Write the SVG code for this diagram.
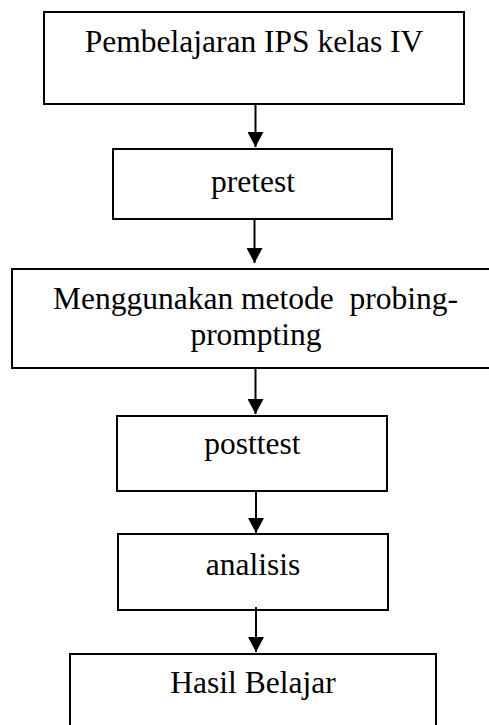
<svg xmlns="http://www.w3.org/2000/svg" width="489" height="725" viewBox="0 0 489 725">
<style>
.box{fill:#fff;stroke:#000;stroke-width:2}
.lbl{font-family:"Liberation Serif","Times New Roman",serif;font-size:31.5px;fill:#000;text-anchor:middle;white-space:pre}
.con{stroke:#000;stroke-width:2;fill:none;marker-end:url(#ah)}
</style>
<defs>
<marker id="ah" markerUnits="userSpaceOnUse" markerWidth="16" markerHeight="16" refX="15" refY="8" orient="auto">
<path d="M0,0 L15,8 L0,16 Z" fill="#000"/>
</marker>
</defs>
<rect width="489" height="725" fill="#fff"/>
<g id="n1"><rect class="box" x="44" y="12" width="420" height="92"/><text class="lbl" x="254" y="52">Pembelajaran IPS kelas IV</text></g>
<g id="n2"><rect class="box" x="113" y="149" width="279" height="70"/><text class="lbl" x="253" y="192">pretest</text></g>
<g id="n3"><rect class="box" x="12" y="269" width="490" height="99"/><text class="lbl" x="255.5" y="309" xml:space="preserve">Menggunakan metode  probing-</text><text class="lbl" x="256" y="345">prompting</text></g>
<g id="n4"><rect class="box" x="117" y="416" width="270" height="75"/><text class="lbl" x="252.5" y="454">posttest</text></g>
<g id="n5"><rect class="box" x="118" y="534" width="270" height="76"/><text class="lbl" x="253" y="575">analisis</text></g>
<g id="n6"><rect class="box" x="70" y="654" width="366" height="100"/><text class="lbl" x="253" y="693">Hasil Belajar</text></g>
<g id="connectors">
<path class="con" d="M255.5,104 L255.5,147"/>
<path class="con" d="M254.5,219 L254.5,263"/>
<path class="con" d="M255.5,368 L255.5,414"/>
<path class="con" d="M256,491 L256,533"/>
<path class="con" d="M256,607 L256,652"/>
</g>
</svg>
